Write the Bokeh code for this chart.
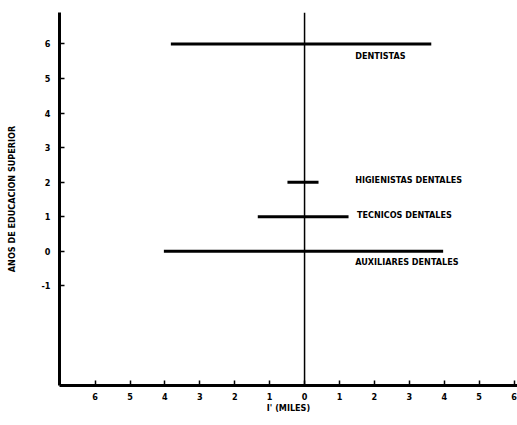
from bokeh.plotting import figure
from bokeh.models import Range1d, FixedTicker, Span, ColumnDataSource, LinearAxis
from bokeh.core.properties import value
from bokeh.embed import file_html
from bokeh.resources import INLINE

# Data
categories = ["DENTISTAS", "HIGIENISTAS DENTALES", "TECNICOS DENTALES", "AUXILIARES DENTALES"]
years = [6, 2, 1, 0]
left_ext = [-3.83, -0.49, -1.34, -4.03]
right_ext = [3.63, 0.40, 1.26, 3.97]
x_ticks = [-6, -5, -4, -3, -2, -1, 0, 1, 2, 3, 4, 5, 6]
x_tick_labels = ["6", "5", "4", "3", "2", "1", "0", "1", "2", "3", "4", "5", "6"]
y_ticks = [-1, 0, 1, 2, 3, 4, 5, 6]
y_tick_labels = ["-1", "0", "1", "2", "3", "4", "5", "6"]

FONT = "DejaVu Sans Condensed, Liberation Sans Narrow, DejaVu Sans"

p = figure(width=517, height=425, output_backend="svg", toolbar_location=None,
           x_range=Range1d(-7.02, 6.10), y_range=Range1d(-3.88, 6.91),
           x_axis_location=None, y_axis_location=None,
           min_border_left=59, min_border_right=0, min_border_top=12, min_border_bottom=40)
p.outline_line_color = None
p.grid.visible = False
p.background_fill_color = "white"
p.border_fill_color = "white"

xaxis = LinearAxis(ticker=FixedTicker(ticks=x_ticks),
                   major_label_overrides={t: l for t, l in zip(x_ticks, x_tick_labels)},
                   axis_label="I' (MILES)")
yaxis = LinearAxis(ticker=FixedTicker(ticks=y_ticks),
                   major_label_overrides={t: l for t, l in zip(y_ticks, y_tick_labels)},
                   axis_label="ANOS DE EDUCACION SUPERIOR")
for ax in (xaxis, yaxis):
    ax.axis_line_width = 3
    ax.axis_line_color = "black"
    ax.major_tick_in = 5
    ax.major_tick_out = 0
    ax.major_tick_line_width = 1.5
    ax.major_tick_line_color = "black"
    ax.minor_tick_line_color = None
    ax.major_label_text_font = FONT
    ax.major_label_text_font_style = "bold"
    ax.major_label_text_font_size = "9px"
    ax.major_label_text_color = "black"
    ax.axis_label_text_font = FONT
    ax.axis_label_text_font_style = "bold"
    ax.axis_label_text_font_size = "9px"
    ax.axis_label_text_color = "black"
xaxis.major_label_standoff = 7
xaxis.axis_label_standoff = 0
yaxis.major_label_standoff = 9
yaxis.axis_label_standoff = 22
p.add_layout(xaxis, "below")
p.add_layout(yaxis, "left")

p.add_layout(Span(location=0, dimension="height", line_color="black", line_width=1.5))

src = ColumnDataSource(dict(y=years, x0=left_ext, x1=right_ext, name=categories,
                            lx=[1.45, 1.45, 1.50, 1.45],
                            yoff=[12, -2, -2, 11]))
p.segment(x0="x0", y0="y", x1="x1", y1="y", source=src, line_color="black", line_width=3)
p.text(x="lx", y="y", text="name", source=src, y_offset="yoff",
       text_font=value(FONT), text_font_style="bold", text_font_size="9px",
       text_baseline="middle", text_align="left", text_color="black")

open("out.html", "w").write(file_html(p, INLINE))
